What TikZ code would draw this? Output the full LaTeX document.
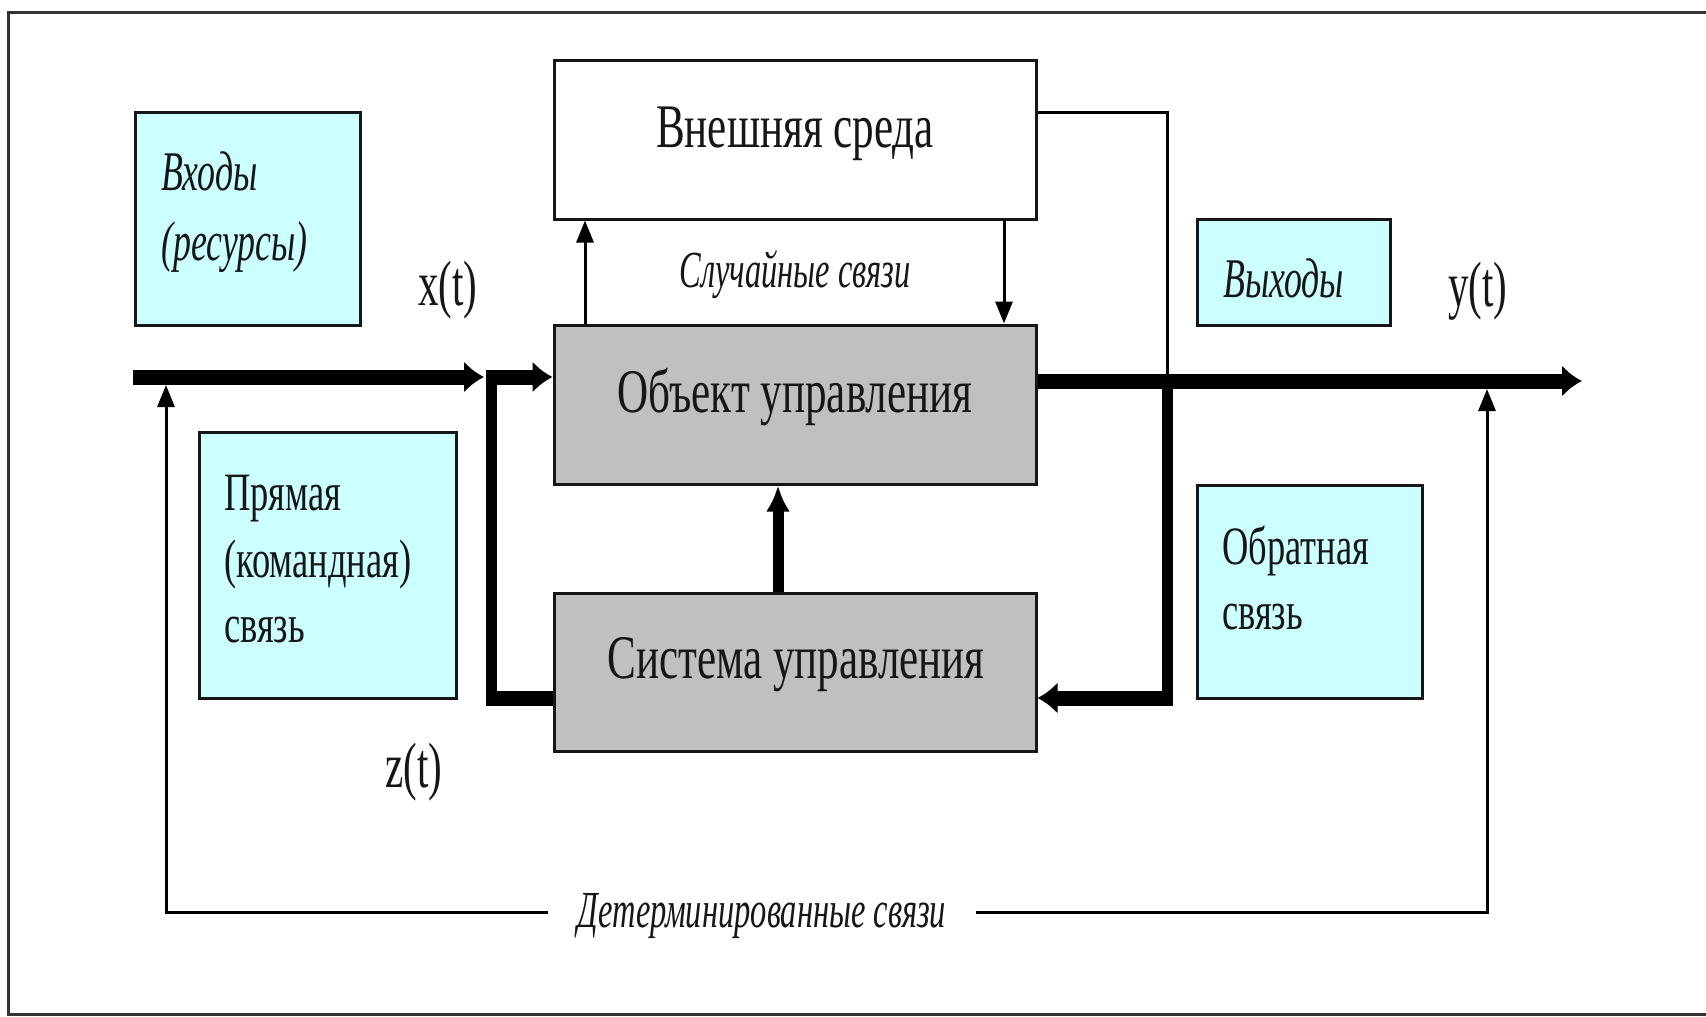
\documentclass[tikz,border=0pt]{standalone}
\usepackage{fontspec}
\setmainfont[FakeStretch=0.64]{Liberation Serif}
\newfontfamily\bigfont[FakeStretch=0.695]{Liberation Serif}
\newfontfamily\midfont[FakeStretch=0.675]{Liberation Serif}
\newfontfamily\linkfont[FakeStretch=0.625]{Liberation Serif}
\usetikzlibrary{arrows.meta,calc}
\definecolor{cyanfill}{RGB}{204,255,255}
\definecolor{grayfill}{RGB}{192,192,192}
\definecolor{ink}{RGB}{22,22,22}
\begin{document}
\begin{tikzpicture}[x=1pt,y=-1pt,
  box/.style={draw=ink, line width=3pt, inner sep=0pt},
  cyanbox/.style={box, fill=cyanfill},
  graybox/.style={box, fill=grayfill},
  whitebox/.style={box, fill=white},
  bigtxt/.style={font=\bigfont\fontsize{62}{70}\selectfont, text=ink, inner sep=0pt, anchor=base},
  boxtxt/.style={font=\midfont\fontsize{54}{64}\selectfont, text=ink, inner sep=0pt, anchor=base west},
  boxitxt/.style={font=\fontsize{56}{64}\selectfont\itshape, text=ink, inner sep=0pt, anchor=base west},
  linkitxt/.style={font=\linkfont\fontsize{52}{60}\selectfont\itshape, text=ink, inner sep=0pt, anchor=base},
  vartxt/.style={font=\fontsize{64}{70}\selectfont, text=ink, inner sep=0pt, anchor=base},
  thickH/.style={draw=black, line width=15pt},
  thickV/.style={draw=black, line width=11pt},
  thinline/.style={draw=black, line width=3pt},
  bigtip/.style={-{Latex[length=20pt,width=32pt]}},
  vtip/.style={-{Latex[length=26pt,width=24pt]}},
  smalltip/.style={-{Triangle[length=22pt,width=17pt]}},
  frameline/.style={draw=black!80, line width=3pt}
]
\useasboundingbox (0,0) rectangle (1706,1017);
\fill[white] (0,0) rectangle (1706,1017);
\draw[frameline] (1706,12) -- (8,12) -- (8,1014) -- (1706,1014);

% boxes
\node[cyanbox, minimum width=225pt, minimum height=213pt] (vhod) at (247.5,218.5) {};
\node[whitebox, minimum width=482pt, minimum height=159pt] (env) at (795,139.5) {};
\node[graybox, minimum width=482pt, minimum height=159pt] (obj) at (795,404.5) {};
\node[graybox, minimum width=482pt, minimum height=158pt] (sys) at (795,672) {};
\node[cyanbox, minimum width=193pt, minimum height=106pt] (vyh) at (1293.5,272) {};
\node[cyanbox, minimum width=225pt, minimum height=213pt] (obr) at (1309.5,591.5) {};
\node[cyanbox, minimum width=257pt, minimum height=266pt] (pryam) at (327.5,565) {};

% box texts
\node[bigtxt] (envT) at (795,147) {Внешняя среда};
\node[bigtxt] (objT) at (795,412) {Объект управления};
\node[bigtxt] (sysT) at (796,678) {Система управления};
\node[boxitxt] (vhodA) at (161,190) {Входы};
\node[boxitxt] (vhodB) at (161,260) {(ресурсы)};
\node[boxitxt] (vyhT) at (1223,297) {Выходы};
\node[boxtxt] (pryamA) at (224,510) {Прямая};
\node[boxtxt] (pryamB) at (224,577) {(командная)};
\node[boxtxt] (pryamC) at (224,642) {связь};
\node[boxtxt] (obrA) at (1222,564) {Обратная};
\node[boxtxt] (obrB) at (1222,629) {связь};
\node[vartxt] (xt) at (448,305) {x(t)};
\node[vartxt] (yt) at (1478,306) {y(t)};
\node[vartxt] (zt) at (414,787) {z(t)};
\node[linkitxt] (rand) at (795,287) {Случайные связи};
\node[linkitxt, inner xsep=30pt] (det) at (762,927) {Детерминированные связи};

% named coordinates
\coordinate (in) at (133,377);
\coordinate (jin) at (484,377);
\coordinate (jL) at (491,698);
\coordinate (out) at (1582,381);
\coordinate (jR) at (1167,698);
\coordinate (envR) at (1167,112);
\coordinate (rl) at (585,0);
\coordinate (rr) at (1004,0);
\coordinate (mv) at (778,0);
\coordinate (dL) at (166,912);
\coordinate (dLt) at (166,385);
\coordinate (dR) at (1487,912);
\coordinate (dRt) at (1487,389);

% thin connectors
\draw[thinline] (env.east |- envR) -- (envR) -- (envR |- out);
\draw[thinline, smalltip] (obj.north -| rl) -- (env.south -| rl);
\draw[thinline, smalltip] (env.south -| rr) -- (obj.north -| rr);
\draw[thinline, smalltip] (det.west |- dL) -- (dL) -- (dLt);
\draw[thinline, smalltip] (det.east |- dR) -- (dR) -- (dRt);

% thick connectors
\draw[thickH, bigtip] (in) -- (jin);
\draw[thickV, shorten <=-7.5pt, shorten >=-7.5pt] (jL |- in) -- (jL);
\draw[thickH, shorten >=-5.5pt] (sys.west |- jL) -- (jL);
\draw[thickH, bigtip] (jL |- in) -- (obj.west |- in);
\draw[thickH, bigtip] (obj.east |- out) -- (out);
\draw[thickV, shorten <=-7.5pt, shorten >=-7.5pt] (jR |- out) -- (jR);
\draw[thickH, bigtip, shorten <=-5.5pt] (jR) -- (sys.east |- jR);
\draw[thickV, vtip] (sys.north -| mv) -- (obj.south -| mv);
\end{tikzpicture}
\end{document}
